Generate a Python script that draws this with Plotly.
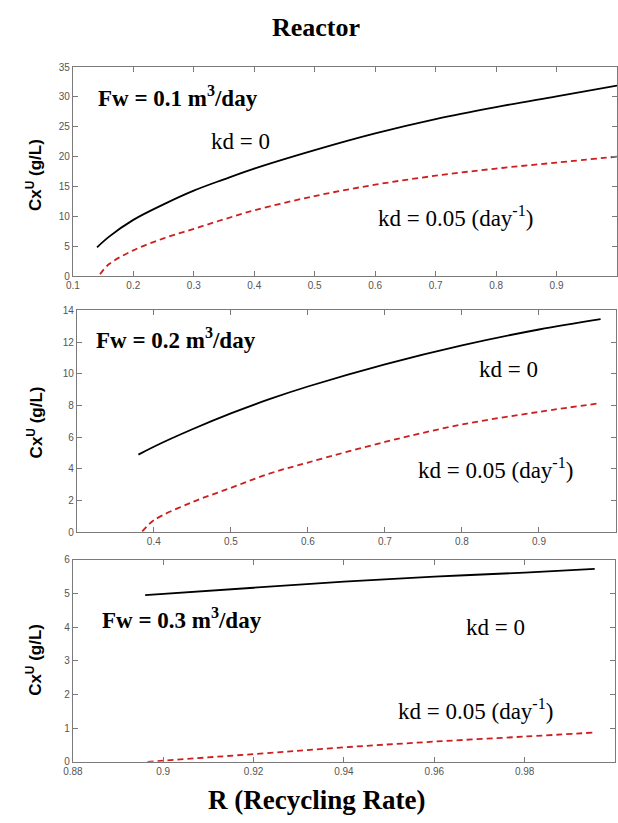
import plotly.graph_objects as go
from plotly.subplots import make_subplots

# Panel 1: Fw = 0.1
r1_kd0 = [0.14, 0.16, 0.2, 0.25, 0.3, 0.35, 0.4, 0.5, 0.6, 0.7, 0.8, 0.9, 1.0]
c1_kd0 = [4.8, 6.6, 9.4, 12.0, 14.3, 16.2, 18.0, 21.1, 23.9, 26.3, 28.3, 30.1, 31.9]
r1_kd5 = [0.145, 0.16, 0.2, 0.25, 0.3, 0.35, 0.4, 0.5, 0.6, 0.7, 0.8, 0.9, 1.0]
c1_kd5 = [0.3, 2.0, 4.3, 6.3, 7.9, 9.5, 11.0, 13.4, 15.3, 16.8, 18.0, 19.0, 20.0]

# Panel 2: Fw = 0.2
r2_kd0 = [0.38, 0.4, 0.45, 0.5, 0.55, 0.6, 0.7, 0.8, 0.9, 0.98]
c2_kd0 = [4.9, 5.4, 6.5, 7.5, 8.4, 9.2, 10.6, 11.8, 12.8, 13.45]
r2_kd5 = [0.385, 0.4, 0.45, 0.5, 0.55, 0.6, 0.7, 0.8, 0.9, 0.98]
c2_kd5 = [0.05, 0.75, 1.9, 2.8, 3.7, 4.4, 5.7, 6.8, 7.6, 8.15]

# Panel 3: Fw = 0.3
r3_kd0 = [0.896, 0.92, 0.94, 0.96, 0.98, 0.9955]
c3_kd0 = [4.95, 5.17, 5.35, 5.5, 5.62, 5.73]
r3_kd5 = [0.8965, 0.92, 0.94, 0.96, 0.98, 0.9955]
c3_kd5 = [0.0, 0.23, 0.43, 0.6, 0.75, 0.87]

panels = [
    (r1_kd0, c1_kd0, r1_kd5, c1_kd5),
    (r2_kd0, c2_kd0, r2_kd5, c2_kd5),
    (r3_kd0, c3_kd0, r3_kd5, c3_kd5),
]

x_ranges = [[0.1, 1.0], [0.3, 1.0], [0.88, 1.0]]
y_ranges = [[0, 35], [0, 14], [0, 6]]
x_ticks = [
    [0.1, 0.2, 0.3, 0.4, 0.5, 0.6, 0.7, 0.8, 0.9, 1.0],
    [0.4, 0.5, 0.6, 0.7, 0.8, 0.9, 1.0],
    [0.88, 0.9, 0.92, 0.94, 0.96, 0.98, 1.0],
]
x_ticktext = [
    ["0.1", "0.2", "0.3", "0.4", "0.5", "0.6", "0.7", "0.8", "0.9", "1"],
    ["0.4", "0.5", "0.6", "0.7", "0.8", "0.9", "1"],
    ["0.88", "0.9", "0.92", "0.94", "0.96", "0.98", "1"],
]
y_ticks = [
    [0, 5, 10, 15, 20, 25, 30, 35],
    [0, 2, 4, 6, 8, 10, 12, 14],
    [0, 1, 2, 3, 4, 5, 6],
]
fw_labels = ["Fw = 0.1 m<sup>3</sup>/day", "Fw = 0.2 m<sup>3</sup>/day", "Fw = 0.3 m<sup>3</sup>/day"]

W, H = 618, 823


def px(x):
    return x / W


def py(y):
    return 1 - y / H


# pixel boxes in the window (left, right, top, bottom)
boxes = [(64, 619, 62, 274), (68, 617, 309, 534), (64, 616, 562, 767)]

fig = make_subplots(rows=3, cols=1)

for i, (xa, ya, xb, yb) in enumerate(panels):
    fig.add_trace(go.Scatter(x=xa, y=ya, mode="lines",
                             line=dict(color="black", width=1.8, shape="spline", smoothing=1.0),
                             showlegend=False), row=i + 1, col=1)
    fig.add_trace(go.Scatter(x=xb, y=yb, mode="lines",
                             line=dict(color="#cc1f1f", width=1.8, dash="6px,4px", shape="spline", smoothing=1.0),
                             showlegend=False), row=i + 1, col=1)

axis_common = dict(showline=True, linecolor="#7a7a7a", linewidth=1, mirror="ticks", ticks="inside",
                   ticklen=5, tickcolor="#7a7a7a", showgrid=False, zeroline=False,
                   tickfont=dict(family="Arial, Liberation Sans, sans-serif", size=10, color="#555555"))

for i in range(3):
    l, r, t, b = boxes[i]
    xk = "xaxis" if i == 0 else f"xaxis{i + 1}"
    yk = "yaxis" if i == 0 else f"yaxis{i + 1}"
    fig.layout[xk].update(domain=[max(0, px(l)), min(1, px(r))], range=x_ranges[i], tickvals=x_ticks[i],
                          ticktext=x_ticktext[i], **axis_common)
    fig.layout[yk].update(domain=[py(b), py(t)], range=y_ranges[i], tickvals=y_ticks[i], **axis_common)

annos = []
serif = "Times New Roman, Liberation Serif, serif"
# y-axis titles
for yc in [172, 423, 664]:
    annos.append(dict(x=px(25), y=py(yc), xref="paper", yref="paper", showarrow=False, textangle=-90,
                      xanchor="center", yanchor="middle",
                      text="<b>Cx<sup>U</sup> (g/L)</b>",
                      font=dict(family="Arial, Liberation Sans, sans-serif", size=17, color="black")))
# Fw labels
for (x, y), txt in zip([(88, 92), (86, 337), (92, 622)], fw_labels):
    annos.append(dict(x=px(x), y=py(y), xref="paper", yref="paper", xanchor="left", yanchor="middle",
                      showarrow=False, text=f"<b>{txt}</b>", font=dict(family=serif, size=23, color="black")))
# kd = 0
for x, y in [(203, 138), (475, 369), (462, 631)]:
    annos.append(dict(x=px(x), y=py(y), xref="paper", yref="paper", xanchor="left", yanchor="middle",
                      showarrow=False, text="kd = 0", font=dict(family=serif, size=23, color="black")))
# kd = 0.05
for x, y in [(373, 214), (413, 469), (393, 714)]:
    annos.append(dict(x=px(x), y=py(y), xref="paper", yref="paper", xanchor="left", yanchor="middle",
                      showarrow=False, text="kd = 0.05 (day<sup>-1</sup>)",
                      font=dict(family=serif, size=23, color="black")))
# title and x label
annos.append(dict(x=px(312), y=py(22), xref="paper", yref="paper", xanchor="center", yanchor="middle",
                  showarrow=False, text="<b>Reactor</b>", font=dict(family=serif, size=26, color="black")))
annos.append(dict(x=px(312), y=py(806), xref="paper", yref="paper", xanchor="center", yanchor="middle",
                  showarrow=False, text="<b>R (Recycling Rate)</b>",
                  font=dict(family=serif, size=27, color="black")))

fig.update_layout(width=W, height=H, margin=dict(l=0, r=0, t=0, b=0), paper_bgcolor="white",
                  plot_bgcolor="white", annotations=annos, showlegend=False, hovermode=False)

fig.write_html("out.html", config={"displayModeBar": False, "staticPlot": True},
               post_script="document.body.style.margin='0';document.body.style.overflow='hidden';")
